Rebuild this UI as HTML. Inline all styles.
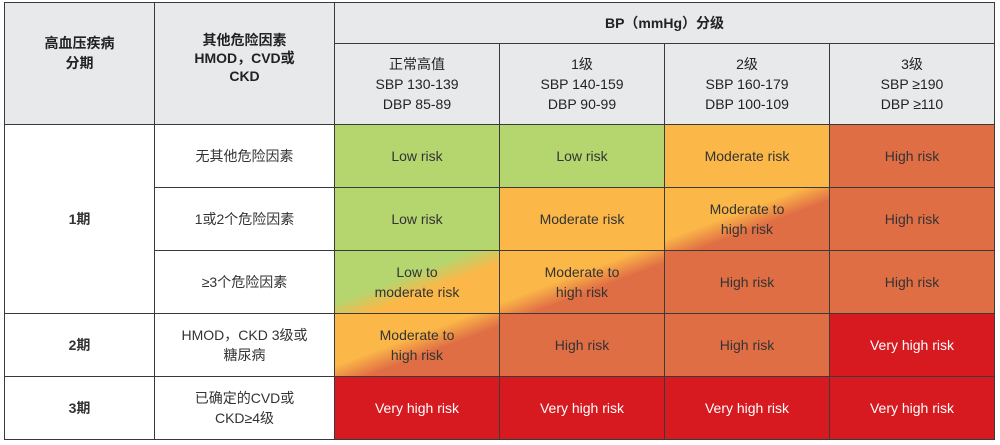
<!DOCTYPE html>
<html><head><meta charset="utf-8"><style>
body{margin:0;width:1000px;height:445px;background:#fff;position:relative;overflow:hidden;font-family:"Liberation Sans","Noto Sans CJK SC",sans-serif;}
.c{position:absolute;box-sizing:border-box;border:1px solid #3a3a3a;display:flex;align-items:center;justify-content:center;text-align:center;font-size:14px;line-height:20px;color:#333;}
.h{background:#e8e9eb;font-weight:bold;color:#222;}
.hs{background:#e8e9eb;color:#222;}
.w{background:#fff;color:#333;}
.g{background:#b5d56f;}.y{background:#fbb748;}.o{background:#e06e45;}.r{background:#d71920;color:#fff;}
.gy{background:linear-gradient(to bottom right,#b5d56f 42%,#fbb748 60%);}
.yo{background:linear-gradient(to bottom right,#fbb748 42%,#e06e45 60%);}
</style></head><body>
<div class="c h" style="left:4px;top:2px;width:151px;height:123px;align-items:flex-start;padding-top:30px">高血压疾病<br>分期</div>
<div class="c h" style="left:154px;top:2px;width:181px;height:123px;align-items:flex-start;padding-top:28px;line-height:18px">其他危险因素<br>HMOD，CVD或<br>CKD</div>
<div class="c h" style="left:334px;top:2px;width:661px;height:42px">BP（mmHg）分级</div>
<div class="c hs" style="left:334px;top:43px;width:166px;height:82px">正常高值<br>SBP 130-139<br>DBP 85-89</div>
<div class="c hs" style="left:499px;top:43px;width:166px;height:82px">1级<br>SBP 140-159<br>DBP 90-99</div>
<div class="c hs" style="left:664px;top:43px;width:166px;height:82px">2级<br>SBP 160-179<br>DBP 100-109</div>
<div class="c hs" style="left:829px;top:43px;width:166px;height:82px">3级<br>SBP ≥190<br>DBP ≥110</div>

<div class="c w" style="left:4px;top:124px;width:151px;height:190px;font-weight:bold">1期</div>
<div class="c w" style="left:4px;top:313px;width:151px;height:64px;font-weight:bold">2期</div>
<div class="c w" style="left:4px;top:376px;width:151px;height:64px;font-weight:bold">3期</div>

<div class="c w" style="left:154px;top:124px;width:181px;height:64px">无其他危险因素</div>
<div class="c w" style="left:154px;top:187px;width:181px;height:64px">1或2个危险因素</div>
<div class="c w" style="left:154px;top:250px;width:181px;height:64px">≥3个危险因素</div>
<div class="c w" style="left:154px;top:313px;width:181px;height:64px">HMOD，CKD 3级或<br>糖尿病</div>
<div class="c w" style="left:154px;top:376px;width:181px;height:64px">已确定的CVD或<br>CKD≥4级</div>

<div class="c g" style="left:334px;top:124px;width:166px;height:64px">Low risk</div>
<div class="c g" style="left:499px;top:124px;width:166px;height:64px">Low risk</div>
<div class="c y" style="left:664px;top:124px;width:166px;height:64px">Moderate risk</div>
<div class="c o" style="left:829px;top:124px;width:166px;height:64px">High risk</div>

<div class="c g" style="left:334px;top:187px;width:166px;height:64px">Low risk</div>
<div class="c y" style="left:499px;top:187px;width:166px;height:64px">Moderate risk</div>
<div class="c yo" style="left:664px;top:187px;width:166px;height:64px">Moderate to<br>high risk</div>
<div class="c o" style="left:829px;top:187px;width:166px;height:64px">High risk</div>

<div class="c gy" style="left:334px;top:250px;width:166px;height:64px">Low to<br>moderate risk</div>
<div class="c yo" style="left:499px;top:250px;width:166px;height:64px">Moderate to<br>high risk</div>
<div class="c o" style="left:664px;top:250px;width:166px;height:64px">High risk</div>
<div class="c o" style="left:829px;top:250px;width:166px;height:64px">High risk</div>

<div class="c yo" style="left:334px;top:313px;width:166px;height:64px">Moderate to<br>high risk</div>
<div class="c o" style="left:499px;top:313px;width:166px;height:64px">High risk</div>
<div class="c o" style="left:664px;top:313px;width:166px;height:64px">High risk</div>
<div class="c r" style="left:829px;top:313px;width:166px;height:64px">Very high risk</div>

<div class="c r" style="left:334px;top:376px;width:166px;height:64px">Very high risk</div>
<div class="c r" style="left:499px;top:376px;width:166px;height:64px">Very high risk</div>
<div class="c r" style="left:664px;top:376px;width:166px;height:64px">Very high risk</div>
<div class="c r" style="left:829px;top:376px;width:166px;height:64px">Very high risk</div>
</body></html>
